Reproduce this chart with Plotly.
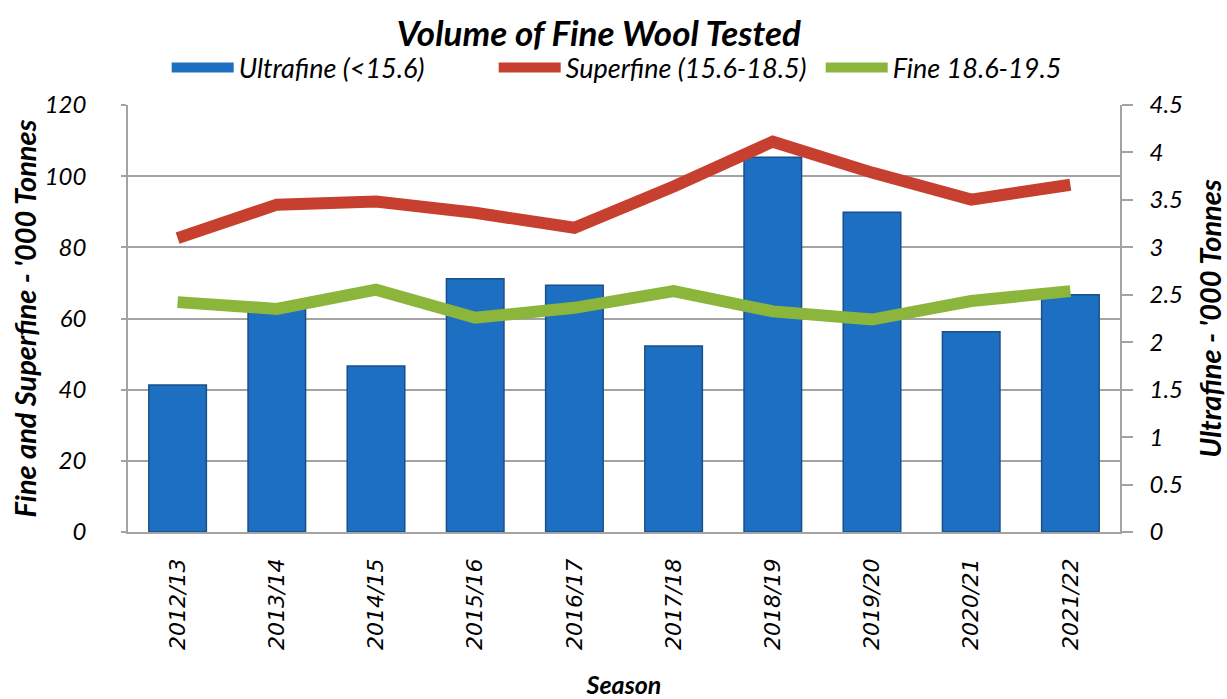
import plotly.graph_objects as go

seasons = ["2012/13", "2013/14", "2014/15", "2015/16", "2016/17",
           "2017/18", "2018/19", "2019/20", "2020/21", "2021/22"]
ultrafine = [1.55, 2.35, 1.75, 2.67, 2.60, 1.96, 3.95, 3.37, 2.11, 2.50]
superfine = [82.6, 92.0, 92.9, 89.7, 85.5, 97.1, 109.7, 101.0, 93.4, 97.6]
fine = [64.6, 62.7, 68.1, 60.2, 63.0, 67.7, 62.0, 59.7, 64.9, 67.7]

left_ticks = [0, 20, 40, 60, 80, 100, 120]
right_ticks = [0, 0.5, 1, 1.5, 2, 2.5, 3, 3.5, 4, 4.5]
right_labels = ["0", "0.5", "1", "1.5", "2", "2.5", "3", "3.5", "4", "4.5"]

F = "Lato"
XF = "DejaVu Sans"
BLUE = "#1d6fc1"
RED = "#c73f2f"
GREEN = "#8cb53b"
GRID = "#a3a3a3"

fig = go.Figure()
fig.add_trace(go.Bar(
    x=seasons, y=ultrafine, name="Ultrafine (<15.6)", showlegend=False,
    marker=dict(color=BLUE, line=dict(color="#1a4e8a", width=1.5)),
    width=0.58, yaxis="y"))
# legend-only entry for the bar series (wide swatch like the original)
fig.add_trace(go.Scatter(
    x=[None], y=[None], name="Ultrafine (<15.6)", mode="lines",
    line=dict(color=BLUE, width=10), yaxis="y", legendrank=1))
fig.add_trace(go.Scatter(
    x=seasons, y=superfine, name="Superfine (15.6-18.5)", mode="lines",
    line=dict(color=RED, width=12), yaxis="y2", legendrank=2))
fig.add_trace(go.Scatter(
    x=seasons, y=fine, name="Fine 18.6-19.5", mode="lines",
    line=dict(color=GREEN, width=12), yaxis="y2", legendrank=3))

fig.update_layout(
    width=1227, height=699,
    margin=dict(l=128, r=107, t=105, b=167),
    paper_bgcolor="white", plot_bgcolor="white",
    showlegend=True,
    title=dict(text="Volume of Fine Wool Tested",
               x=0.488, xanchor="center", y=0.952, yanchor="middle",
               font=dict(family=F, size=35, color="black", weight="bold", style="italic")),
    legend=dict(orientation="h", x=0.039, xanchor="left", y=1.087, yanchor="middle",
                font=dict(family=F, size=27, color="black", style="italic"),
                itemwidth=62, entrywidth=250, entrywidthmode="pixels",
                bgcolor="rgba(0,0,0,0)"),
    xaxis=dict(type="category", range=[-0.5, 9.5], automargin=False,
               tickangle=-90, ticks="", ticklabelstandoff=16,
               tickfont=dict(family=XF, size=22, color="black", style="italic"),
               showline=True, linecolor=GRID, linewidth=1.5,
               showgrid=False,
               title=dict(text="Season", standoff=32,
                          font=dict(family=F, size=25, color="black", weight="bold", style="italic"))),
    yaxis=dict(side="right", range=[0, 4.5], tickvals=right_ticks, ticktext=right_labels,
               automargin=False,
               showgrid=False, zeroline=False,
               showline=True, linecolor=GRID, linewidth=1.5,
               ticks="outside", ticklen=11, tickcolor=GRID, tickwidth=1.5,
               ticklabelstandoff=12,
               tickfont=dict(family=F, size=24, color="black", style="italic"),
               title=dict(text="Ultrafine - '000 Tonnes", standoff=22,
                          font=dict(family=F, size=29, color="black", weight="bold", style="italic"))),
    yaxis2=dict(side="left", overlaying="y", range=[0, 120], tickvals=left_ticks,
                automargin=False,
                showgrid=True, gridcolor=GRID, gridwidth=1.5, zeroline=False,
                showline=True, linecolor=GRID, linewidth=1.5,
                ticks="outside", ticklen=5, tickcolor=GRID, tickwidth=1.5,
                ticklabelstandoff=30,
                tickfont=dict(family=F, size=24, color="black", style="italic"),
                title=dict(text="Fine and Superfine - '000 Tonnes", standoff=0,
                           font=dict(family=F, size=29, color="black", weight="bold", style="italic"))),
)

fig.write_html("out.html")
